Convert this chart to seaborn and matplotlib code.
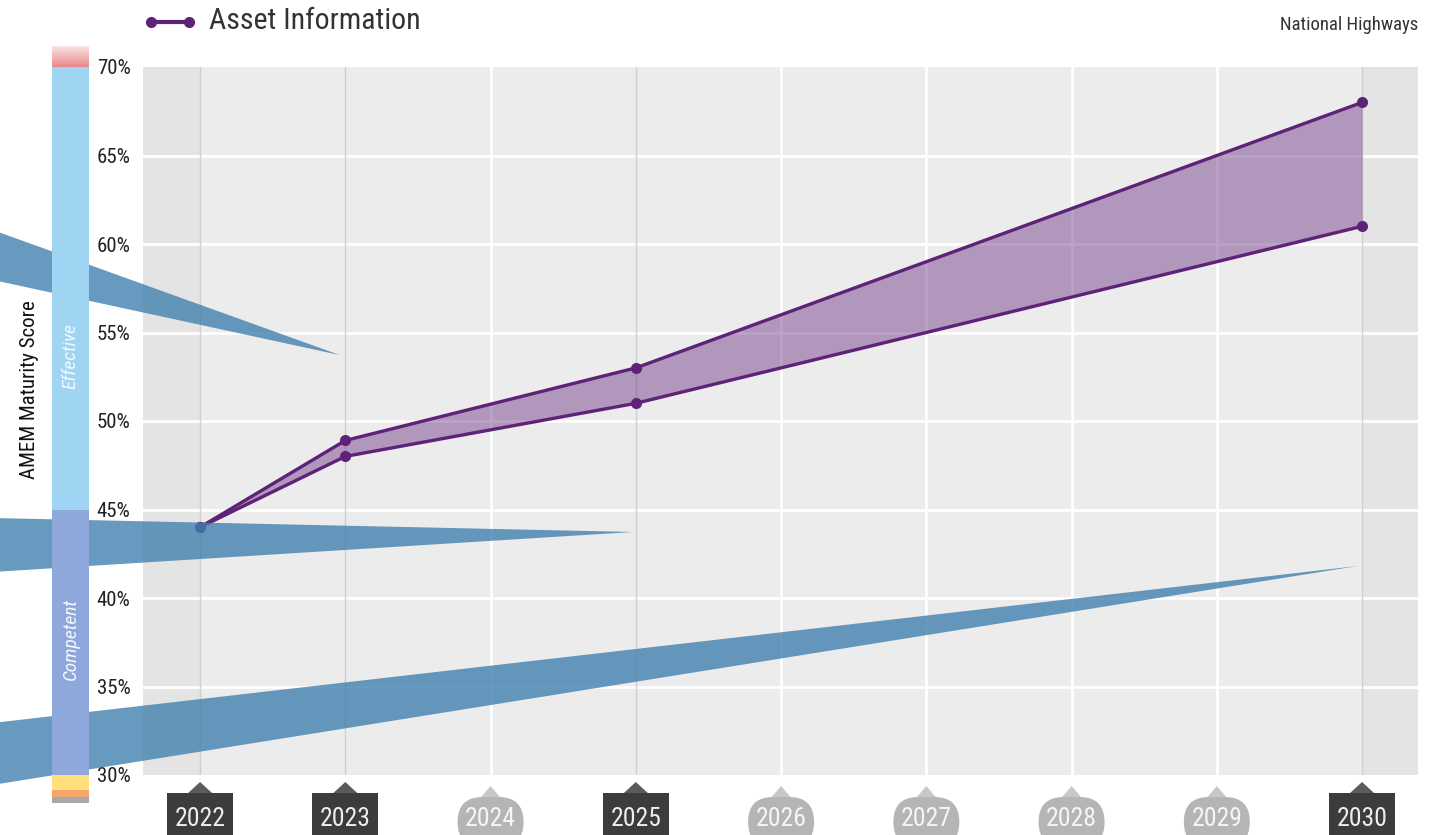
import matplotlib
matplotlib.use("Agg")
import numpy as np
import pandas as pd
import matplotlib.pyplot as plt
import seaborn as sns
from matplotlib.patches import Polygon, FancyBboxPatch, Rectangle
from matplotlib.lines import Line2D
from matplotlib.colors import LinearSegmentedColormap

# ---- data -------------------------------------------------------------
years = [2022, 2023, 2025, 2030]
upper_score = [44.0, 48.9, 53.0, 68.0]
lower_score = [44.0, 48.0, 51.0, 61.0]

all_years = list(range(2022, 2031))
milestone_years = [2022, 2023, 2025, 2030]
y_ticks = [30, 35, 40, 45, 50, 55, 60, 65, 70]

band_names = ["Competent", "Effective"]
band_low = [30, 45]
band_high = [45, 70]
band_label_y = [37.7, 53.7]

# callout pointers: tip position and the two y-values where they leave the figure edge
callout_tip_x = [2022.96, 2024.98, 2029.97]
callout_tip_y = [53.73, 43.73, 41.81]
callout_top_y = [60.79, 44.52, 32.94]
callout_bottom_y = [57.97, 41.47, 29.44]

series_name = "Asset Information"
owner = "National Highways"
y_title = "AMEM Maturity Score"

# ---- style ------------------------------------------------------------
sns.set_theme(style="white")
plt.rcParams["font.family"] = ["Liberation Sans Narrow", "Roboto Condensed", "Roboto", "DejaVu Sans"]

PURPLE = "#5e2278"
W, H = 1436, 835
fig = plt.figure(figsize=(W / 100, H / 100), dpi=100)

ax = fig.add_axes([143 / W, 60 / H, (1418 - 143) / W, (775 - 67) / H])
ax.set_facecolor("#ececec")
ax.set_xlim(2021.607, 2030.385)
ax.set_ylim(30, 70)
for s in ax.spines.values():
    s.set_visible(False)

# darker strips outside the year range
ax.axvspan(ax.get_xlim()[0], 2022, color="#e4e4e4", lw=0, zorder=0)
ax.axvspan(2030, ax.get_xlim()[1], color="#e4e4e4", lw=0, zorder=0)

for v in y_ticks[1:-1]:
    ax.axhline(v, color="white", lw=2, zorder=1)
for yr in all_years:
    if yr in milestone_years:
        ax.axvline(yr, color="#cfcfcf", lw=1, zorder=1)
    else:
        ax.axvline(yr, color="white", lw=2, zorder=1)

df = pd.DataFrame({"year": years * 2,
                   "score": upper_score + lower_score,
                   "bound": ["upper"] * len(years) + ["lower"] * len(years)})
ax.fill_between(years, lower_score, upper_score, color=PURPLE, alpha=0.42, lw=0, zorder=2)
sns.lineplot(data=df, x="year", y="score", units="bound", estimator=None,
             color=PURPLE, lw=2.4, marker="o", markersize=8, markeredgewidth=0,
             ax=ax, zorder=3, legend=False)

ax.set_xlabel("")
ax.set_ylabel("")
ax.set_xticks([])
ax.set_yticks(y_ticks)
ax.set_yticklabels([f"{v}%" for v in y_ticks], fontsize=15, color="#222222")
ax.tick_params(axis="y", length=0, pad=9)

# ---- maturity band bar ------------------------------------------------
bar_ax = fig.add_axes([52 / W, 60 / H, 37 / W, (775 - 67) / H])
bar_ax.set_xlim(-0.5, 0.5)
bar_ax.set_ylim(30, 70)
bar_ax.axis("off")
band_colors = ["#8fa8dc", "#9fd4f2"]
bar_ax.bar([0] * 2, np.subtract(band_high, band_low), bottom=band_low, width=1.0,
           color=band_colors, lw=0)
for name, yv in zip(band_names, band_label_y):
    bar_ax.text(0, yv, name, rotation=90, ha="center", va="center", fontsize=14,
                style="italic", color="#f4f9fd")
# extensions beyond the scale
grad = np.linspace(0, 1, 50).reshape(-1, 1)
red_cmap = LinearSegmentedColormap.from_list("r", ["#e8888a", "#fbe4e4"])
bar_ax.imshow(grad, cmap=red_cmap, aspect="auto", extent=(-0.5, 0.5, 70, 71.13),
              origin="lower", clip_on=False, zorder=1)
lower_ext = [(30.0, 29.15, "#ffe07d"), (29.15, 28.76, "#f6a56c"), (28.76, 28.42, "#a8a8a8")]
for top, bot, c in lower_ext:
    bar_ax.add_patch(Rectangle((-0.5, bot), 1.0, top - bot, color=c, lw=0, clip_on=False))

fig.text(30 / W, 1 - 390 / H, y_title, rotation=90, ha="center", va="center",
         fontsize=15, color="#111111")

# ---- title row ----------------------------------------------------------
fig.add_artist(Line2D([151, 189], [H - 22, H - 22], transform=None, color=PURPLE, lw=3,
                      marker="o", markersize=8, markeredgewidth=0))
fig.text(209 / W, 1 - 21 / H, series_name, ha="left", va="center", fontsize=21.5, color="#333333")
fig.text(1418 / W, 1 - 25 / H, owner, ha="right", va="center", fontsize=13.5, color="#333333")

# ---- year markers under the axis -------------------------------------
fig.canvas.draw()
for yr in all_years:
    px, py = ax.transData.transform((yr, 30))
    dark = yr in milestone_years
    if dark:
        box_top = py - 18
        tri = Polygon([(px - 12, box_top), (px + 12, box_top), (px, box_top + 11)],
                      closed=True, transform=None, color="#5b5b5b", lw=0)
        box = FancyBboxPatch((px - 33, box_top - 50), 66, 50, boxstyle="square,pad=0",
                             transform=None, color="#3c3c3c", lw=0)
        tcol = "#eeeeee"
    else:
        box_top = py - 22
        tri = Polygon([(px - 12, box_top - 3), (px + 12, box_top - 3), (px, box_top + 11)],
                      closed=True, transform=None, color="#c8c8c8", lw=0)
        box = FancyBboxPatch((px - 33, box_top - 50), 66, 50,
                             boxstyle="round,pad=0,rounding_size=25",
                             transform=None, color="#b5b5b5", lw=0)
        tcol = "#f6f6f6"
    fig.add_artist(tri)
    fig.add_artist(box)
    fig.text(px / W, (py - 44) / H, str(yr), ha="center", va="center",
             fontsize=18.5, color=tcol)

# ---- callout pointers ----------------------------------------------------
edge_x = ax.transData.inverted().transform((0, 0))[0]
for tx, ty, t_top, t_bot in zip(callout_tip_x, callout_tip_y, callout_top_y, callout_bottom_y):
    poly = Polygon([(edge_x - 0.05, t_top), (tx, ty), (edge_x - 0.05, t_bot)], closed=True,
                   facecolor="#4181ae", alpha=0.8, lw=0, clip_on=False, zorder=10)
    ax.add_patch(poly)

fig.savefig("out.png", dpi=100)
